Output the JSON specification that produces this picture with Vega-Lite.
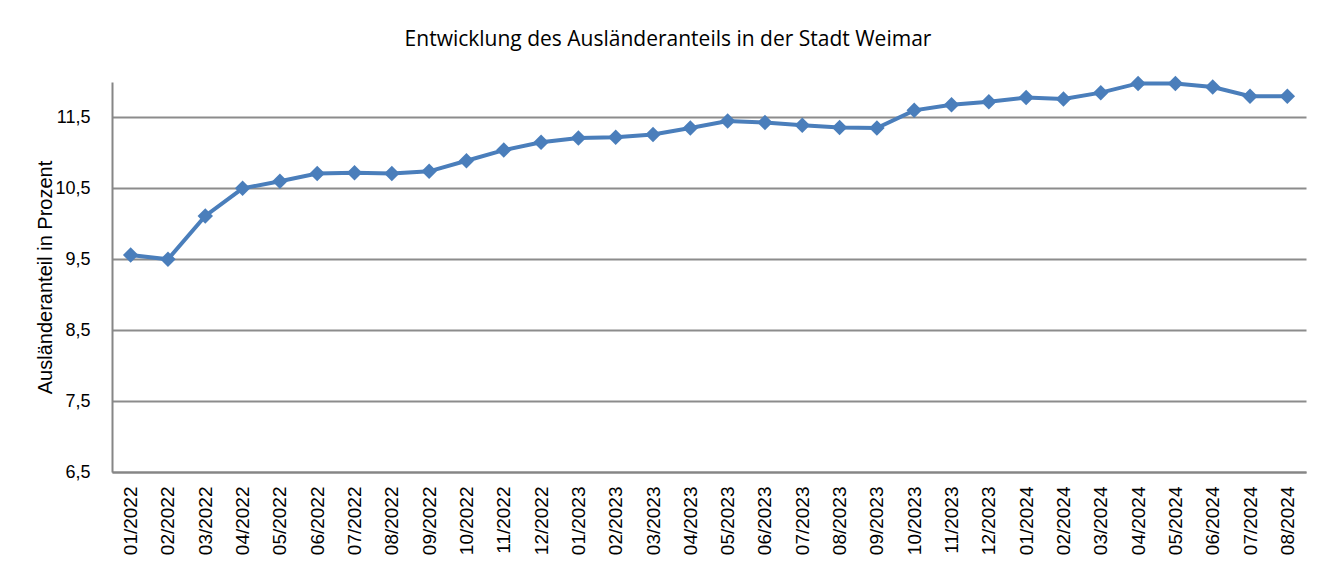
{
  "$schema": "https://vega.github.io/schema/vega-lite/v6.json",
  "width": 1194,
  "height": 390,
  "autosize": {"type": "none"},
  "padding": {"left": 112, "top": 82, "right": 30, "bottom": 97},
  "background": "white",
  "title": {
    "text": "Entwicklung des Ausländeranteils in der Stadt Weimar",
    "font": "Open Sans",
    "fontSize": 21,
    "fontWeight": "normal",
    "color": "#000000",
    "anchor": "middle",
    "dx": -41,
    "offset": 25
  },
  "data": {
    "values": [
      {"monat": "01/2022", "anteil": 9.56},
      {"monat": "02/2022", "anteil": 9.50},
      {"monat": "03/2022", "anteil": 10.11},
      {"monat": "04/2022", "anteil": 10.50},
      {"monat": "05/2022", "anteil": 10.60},
      {"monat": "06/2022", "anteil": 10.71},
      {"monat": "07/2022", "anteil": 10.72},
      {"monat": "08/2022", "anteil": 10.71},
      {"monat": "09/2022", "anteil": 10.74},
      {"monat": "10/2022", "anteil": 10.89},
      {"monat": "11/2022", "anteil": 11.04},
      {"monat": "12/2022", "anteil": 11.15},
      {"monat": "01/2023", "anteil": 11.21},
      {"monat": "02/2023", "anteil": 11.22},
      {"monat": "03/2023", "anteil": 11.26},
      {"monat": "04/2023", "anteil": 11.35},
      {"monat": "05/2023", "anteil": 11.45},
      {"monat": "06/2023", "anteil": 11.43},
      {"monat": "07/2023", "anteil": 11.39},
      {"monat": "08/2023", "anteil": 11.36},
      {"monat": "09/2023", "anteil": 11.35},
      {"monat": "10/2023", "anteil": 11.60},
      {"monat": "11/2023", "anteil": 11.68},
      {"monat": "12/2023", "anteil": 11.72},
      {"monat": "01/2024", "anteil": 11.78},
      {"monat": "02/2024", "anteil": 11.76},
      {"monat": "03/2024", "anteil": 11.85},
      {"monat": "04/2024", "anteil": 11.98},
      {"monat": "05/2024", "anteil": 11.98},
      {"monat": "06/2024", "anteil": 11.93},
      {"monat": "07/2024", "anteil": 11.80},
      {"monat": "08/2024", "anteil": 11.80}
    ]
  },
  "encoding": {
    "x": {
      "field": "monat",
      "type": "ordinal",
      "sort": null,
      "scale": {"type": "point", "padding": 0.5},
      "axis": {
        "title": null,
        "labelAngle": -90,
        "labelFont": "Liberation Sans",
        "labelFontSize": 19,
        "labelColor": "#000000",
        "labelPadding": 14,
        "ticks": false,
        "domain": true,
        "domainColor": "#868686",
        "domainWidth": 2,
        "grid": false
      }
    },
    "y": {
      "field": "anteil",
      "type": "quantitative",
      "scale": {"domain": [6.5, 12], "nice": false, "zero": false},
      "axis": {
        "title": "Ausländeranteil in Prozent",
        "titleFont": "Liberation Sans",
        "titleFontSize": 20,
        "titleFontWeight": "normal",
        "titleColor": "#000000",
        "titlePadding": -1,
        "values": [6.5, 7.5, 8.5, 9.5, 10.5, 11.5],
        "labelExpr": "replace(format(datum.value, '.1f'), '.', ',')",
        "labelFont": "Liberation Sans",
        "labelFontSize": 18,
        "labelColor": "#000000",
        "labelPadding": 22,
        "ticks": false,
        "domain": true,
        "domainColor": "#868686",
        "domainWidth": 2,
        "grid": true,
        "gridColor": "#8c8c8c",
        "gridWidth": 2
      }
    }
  },
  "layer": [
    {
      "mark": {"type": "line", "color": "#4a7ebb", "strokeWidth": 4}
    },
    {
      "mark": {"type": "point", "shape": "diamond", "filled": true, "color": "#4a7ebb", "opacity": 1, "size": 240}
    }
  ],
  "config": {
    "view": {"stroke": null}
  }
}
